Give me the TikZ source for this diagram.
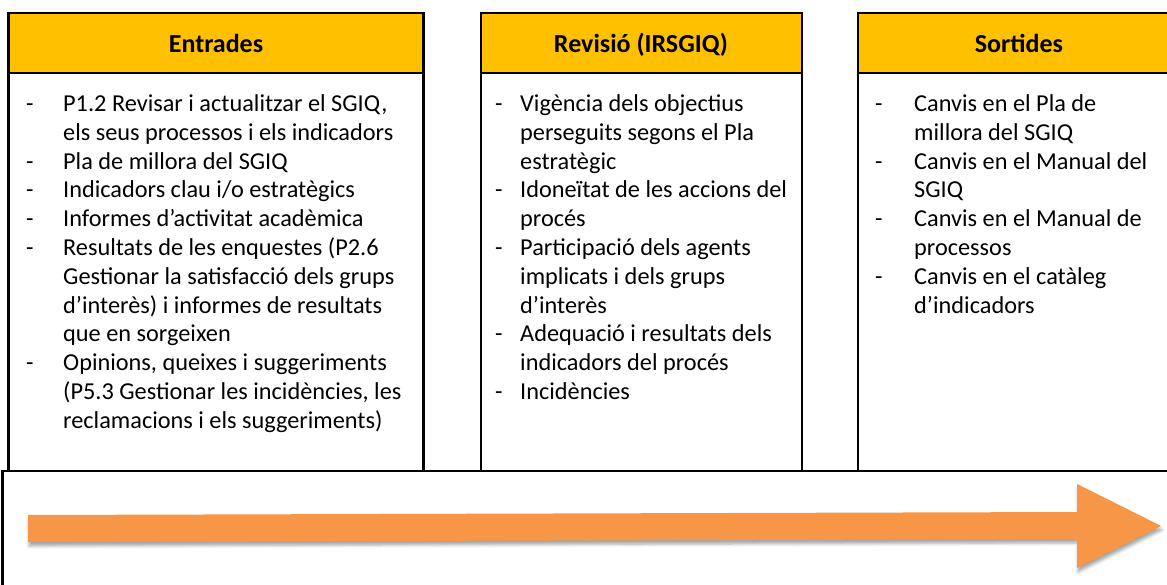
\documentclass[tikz,border=0pt]{standalone}
\usepackage{fontspec}
\setmainfont{Carlito}
\usetikzlibrary{shadows.blur}

\definecolor{headgold}{HTML}{FFC000}
\definecolor{arroworange}{HTML}{F79646}

% list with a dash column
\newcommand{\dashlist}[2]{\begin{tabular}[t]{@{}p{#1}@{}l@{}}#2\end{tabular}}

\begin{document}
\begin{tikzpicture}[x=1pt, y=-1pt,
    frame/.style={draw=black, line width=2.8pt},
    headtxt/.style={font=\fontsize{26}{30}\selectfont\bfseries, anchor=base, inner sep=0pt},
    listtxt/.style={font=\fontsize{24.3}{28.8}\selectfont, anchor=base west, inner sep=0pt}]

    \useasboundingbox (0,0) rectangle (1167,585);

    % Column boxes with gold header bands
    \foreach \xa/\xb in {8.5/423.5, 481/802, 858/1180}{
        \fill[headgold] (\xa,13) rectangle (\xb,73);
        \draw[frame] (\xa,13) rectangle (\xb,471);
        \draw[frame] (\xa,73) -- (\xb,73);
    }

    % Bottom band
    \draw[frame] (2.5,590) -- (2.5,471) -- (1180,471);

    % Headers
    \node[headtxt] (enthead) at (216,53) {Entrades};
    \node[headtxt] (revhead) at (641,53) {Revisió (IRSGIQ)};
    \node[headtxt] (sorhead) at (1019,53) {Sortides};

    % Inputs
    \node[listtxt] (entlist) at (26,111.5) {\dashlist{37pt}{
        - & P1.2 Revisar i actualitzar el SGIQ, \\
          & els seus processos i els indicadors \\
        - & Pla de millora del SGIQ \\
        - & Indicadors clau i/o estratègics \\
        - & Informes d’activitat acadèmica \\
        - & Resultats de les enquestes (P2.6 \\
          & Gestionar la satisfacció dels grups \\
          & d’interès) i informes de resultats \\
          & que en sorgeixen \\
        - & Opinions, queixes i suggeriments \\
          & (P5.3 Gestionar les incidències, les \\
          & reclamacions i els suggeriments)}};

    % Review
    \node[listtxt] (revlist) at (495,111.5) {\dashlist{25pt}{
        - & Vigència dels objectius \\
          & perseguits segons el Pla \\
          & estratègic \\
        - & Idoneïtat de les accions del \\
          & procés \\
        - & Participació dels agents \\
          & implicats i dels grups \\
          & d’interès \\
        - & Adequació i resultats dels \\
          & indicadors del procés \\
        - & Incidències}};

    % Outputs
    \node[listtxt] (sorlist) at (875,111.5) {\dashlist{39pt}{
        - & Canvis en el Pla de \\
          & millora del SGIQ \\
        - & Canvis en el Manual del \\
          & SGIQ \\
        - & Canvis en el Manual de \\
          & processos \\
        - & Canvis en el catàleg \\
          & d’indicadors}};

    % Flow arrow
    \fill[arroworange, blur shadow={shadow xshift=1pt, shadow yshift=-4pt, shadow blur radius=3pt, shadow opacity=35}]
        (28,515) -- (1077,512) -- (1077,484) -- (1161,526)
        -- (1077,568) -- (1077,539) -- (28,542) -- cycle;

\end{tikzpicture}
\end{document}
